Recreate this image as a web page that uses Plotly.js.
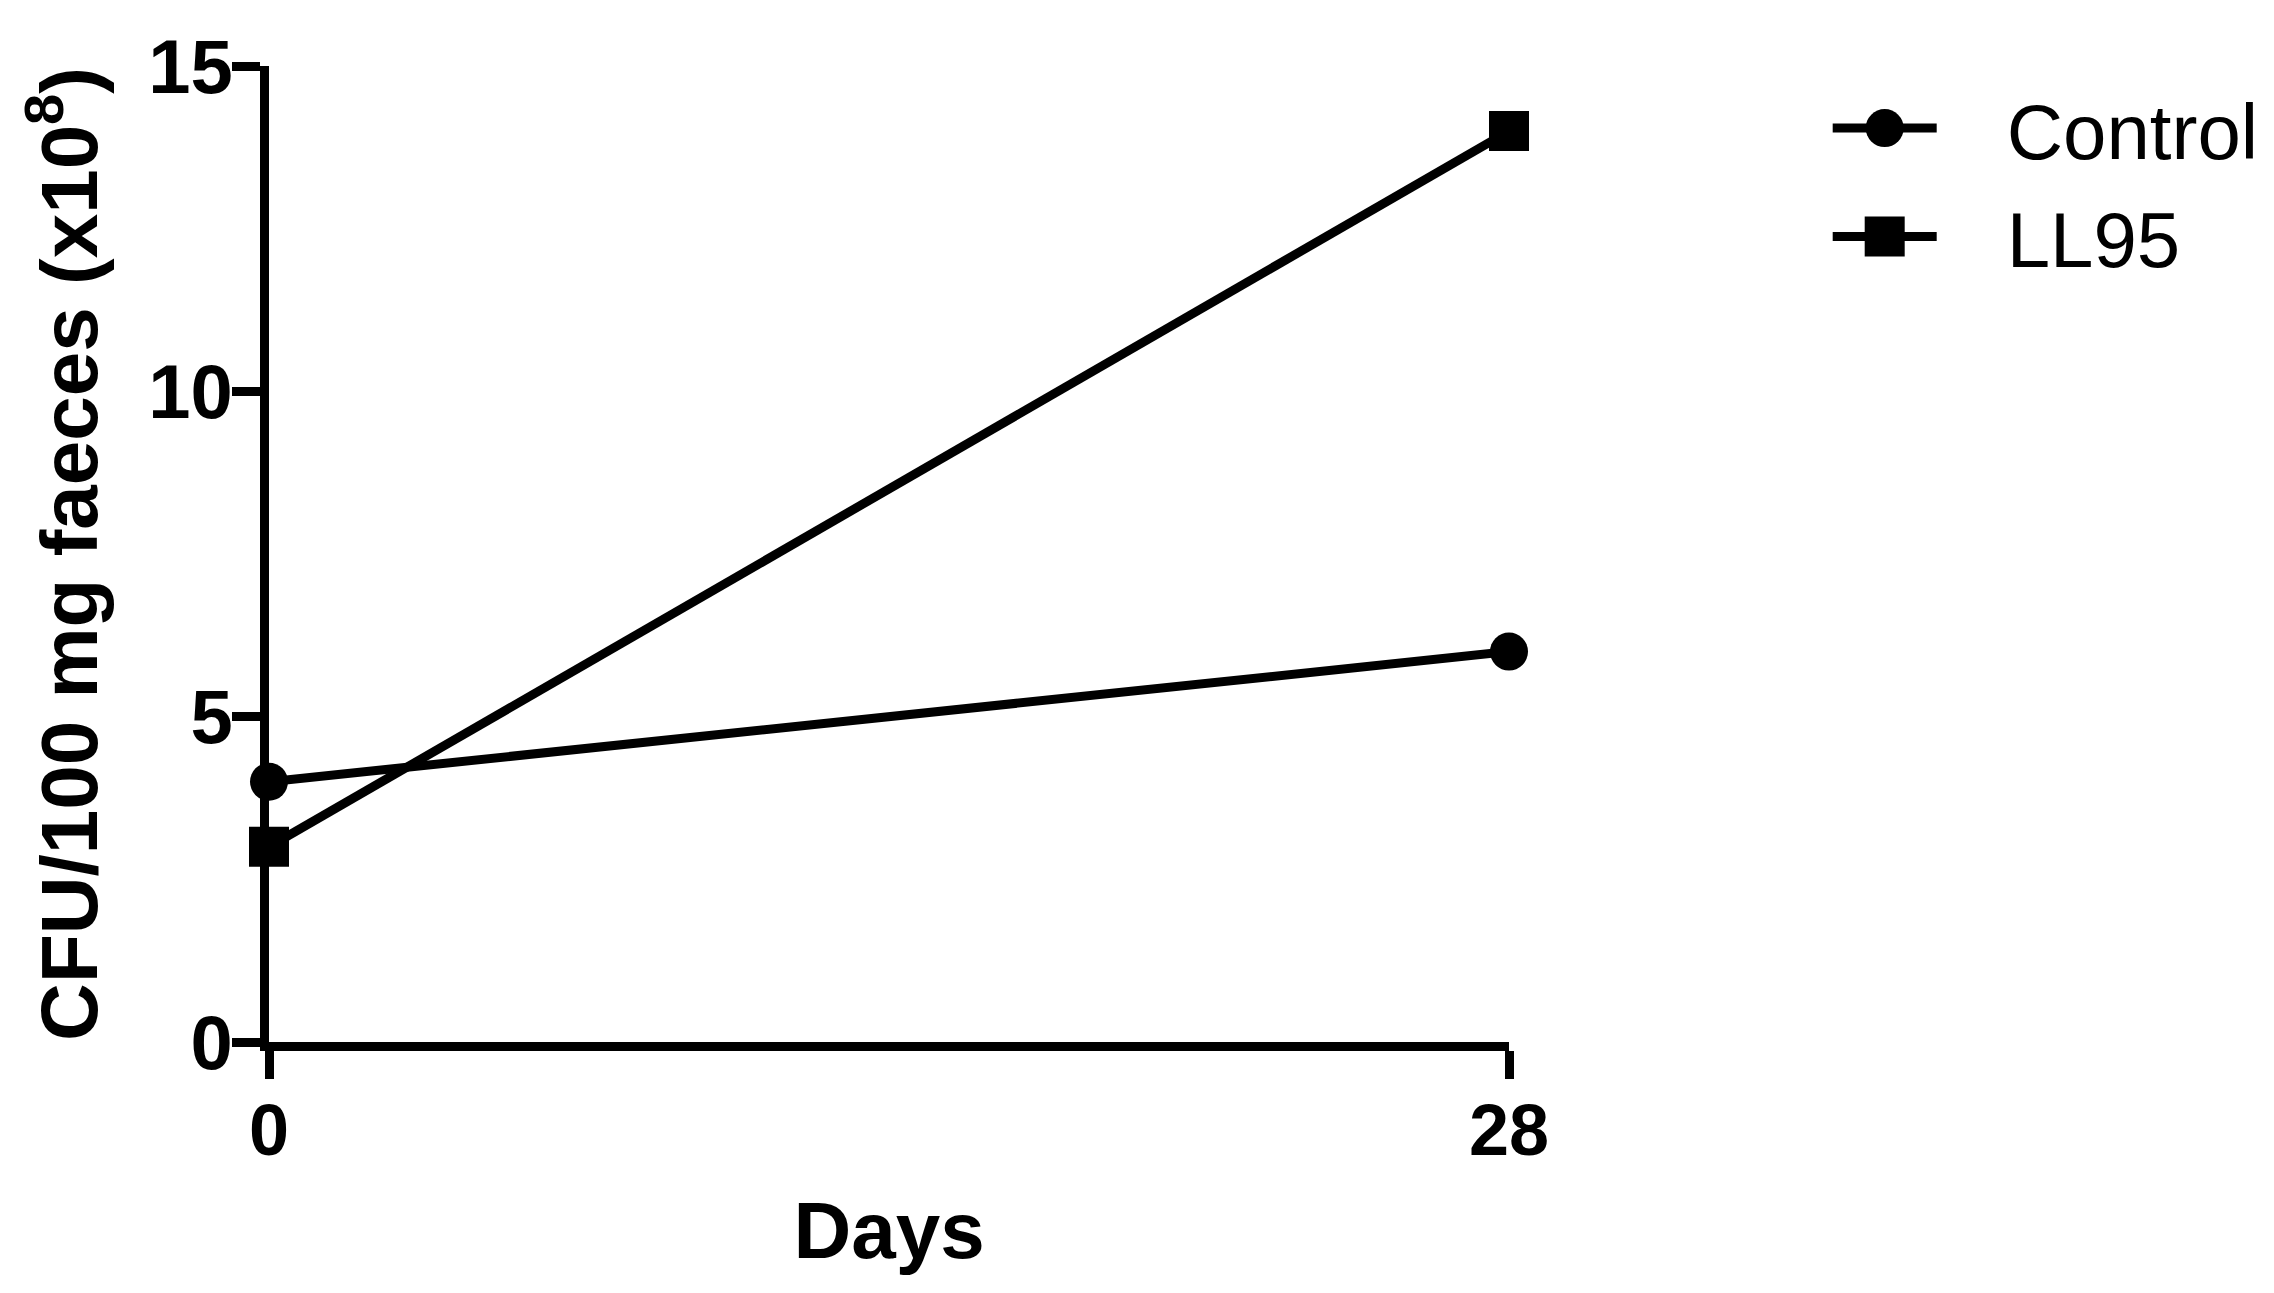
<!DOCTYPE html>
<html>
<head>
<meta charset="utf-8">
<script src="https://cdn.plot.ly/plotly-3.0.1.min.js"></script>
<style>html,body{margin:0;padding:0;background:#fff;}#chart{width:2274px;height:1293px;}</style>
</head>
<body>
<div id="chart"></div>
<script>
const days = [0, 28];
const controlValues = [4, 6];
const ll95Values = [3, 14];
const seriesNames = ["Control", "LL95"];
const yTicks = [0, 5, 10, 15];
const xTicks = [0, 28];

const FONT = "Liberation Sans, Arial, Helvetica, sans-serif";
const GAP = "\u00a0\u00a0\u00a0";

const traces = [
  {
    x: days, y: controlValues, name: GAP + seriesNames[0], legendgroup: "a",
    type: "scatter", mode: "lines+markers",
    line: {color: "#000", width: 9},
    marker: {symbol: "circle", size: 38, color: "#000"},
    cliponaxis: false
  },
  {
    x: days, y: ll95Values, name: GAP + seriesNames[1], legendgroup: "b",
    type: "scatter", mode: "lines+markers",
    line: {color: "#000", width: 9},
    marker: {symbol: "square", size: 40, color: "#000"},
    cliponaxis: false
  }
];

const layout = {
  width: 2274, height: 1293,
  margin: {l: 269, r: 764, t: 66, b: 251},
  paper_bgcolor: "#fff", plot_bgcolor: "#fff",
  showlegend: true,
  legend: {
    x: 1.256, xanchor: "left", y: 0.995, yanchor: "top",
    font: {family: FONT, size: 78, color: "#000"},
    itemwidth: 104, tracegroupgap: 4,
    bgcolor: "rgba(0,0,0,0)"
  },
  xaxis: {
    range: [0, 28], tickvals: xTicks, ticktext: xTicks.map(String),
    showgrid: false, zeroline: false,
    showline: true, linecolor: "#000", linewidth: 9,
    ticks: "outside", ticklen: 28, tickwidth: 9, tickcolor: "#000",
    ticklabelstandoff: -10,
    tickfont: {family: FONT, size: 72, color: "#000", weight: "bold"},
    title: {text: "Days", font: {family: FONT, size: 80, color: "#000", weight: "bold"}, standoff: 36}
  },
  yaxis: {
    range: [0, 15], tickvals: yTicks, ticktext: yTicks.map(String),
    showgrid: false, zeroline: false,
    showline: true, linecolor: "#000", linewidth: 9,
    ticks: "outside", ticklen: 28, tickwidth: 9, tickcolor: "#000",
    ticklabelstandoff: -16,
    tickfont: {family: FONT, size: 76, color: "#000", weight: "bold"},
    title: {text: "CFU/100 mg faeces (x10<sup>8</sup>)", font: {family: FONT, size: 80, color: "#000", weight: "bold"}, standoff: 28}
  }
};

Plotly.newPlot("chart", traces, layout, {displayModeBar: false, staticPlot: true}).then(function (gd) {
  // enlarge legend symbols to match the chart's marker size
  const targets = [38, 40];
  const groups = gd.querySelectorAll(".legend .traces");
  groups.forEach(function (g, i) {
    const pts = g.querySelectorAll(".legendpoints path");
    pts.forEach(function (p) {
      const bb = p.getBBox();
      if (bb.width > 0) {
        const s = targets[i] / bb.width;
        const t = p.getAttribute("transform") || "";
        p.setAttribute("transform", t + " scale(" + s + ")");
      }
    });
  });
});
</script>
</body>
</html>
